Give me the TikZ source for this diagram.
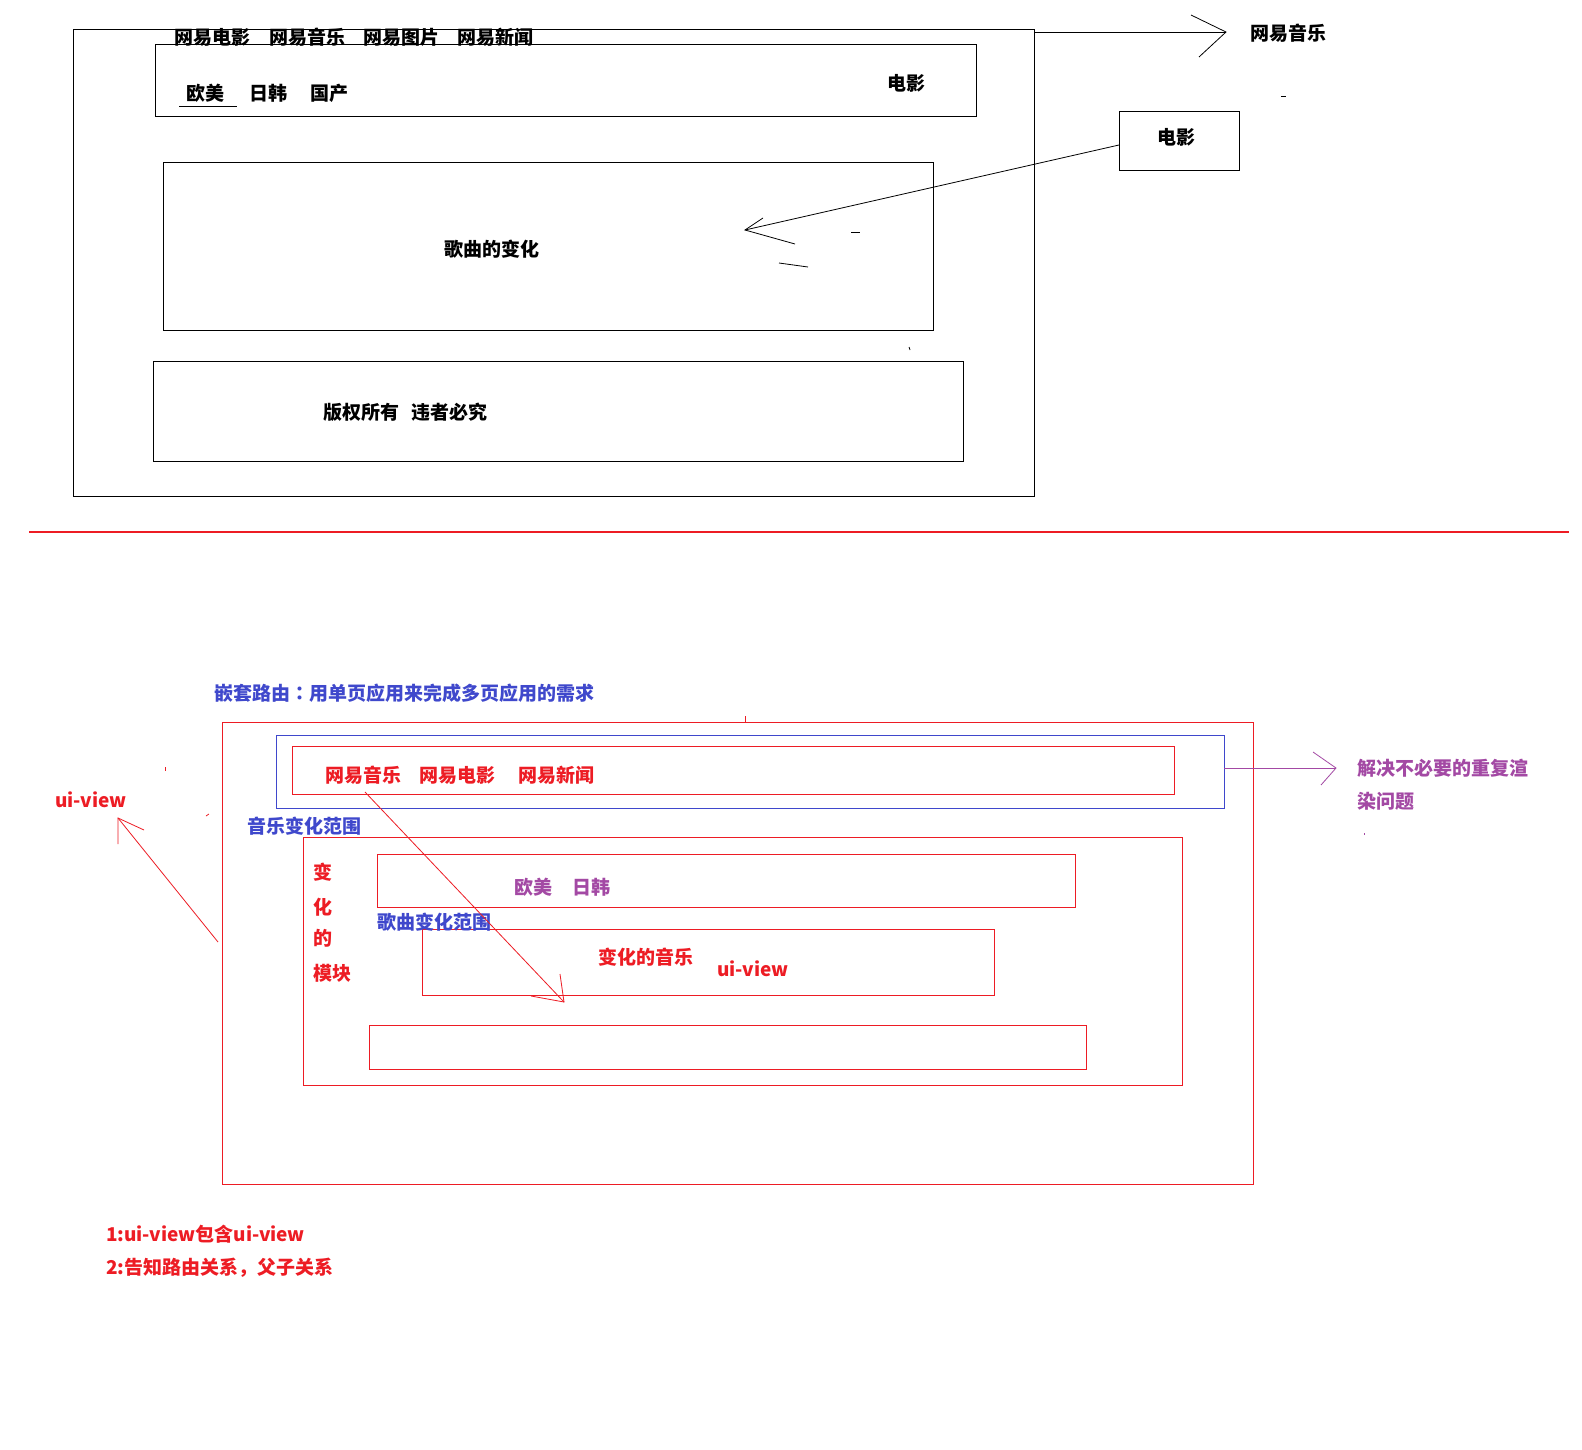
\documentclass[tikz,border=0pt]{standalone}
\usepackage{fontspec}
\setmainfont{Noto Sans CJK SC}
\newfontfamily\tcpunct{Noto Sans CJK TC}
\definecolor{pred}{HTML}{ED1C24}
\definecolor{pblue}{HTML}{3F48CC}
\definecolor{ppurple}{HTML}{A349A4}
\tikzset{
  box/.style={draw, anchor=north west, inner sep=0pt, line width=1.1pt},
  blk/.style={box, draw=black},
  rbox/.style={box, draw=pred},
  bbox/.style={box, draw=pblue},
  txt/.style={anchor=west, inner sep=0pt, font=\fontsize{19}{22}\selectfont\bfseries},
  conn/.style={line width=0.8pt}
}
\begin{document}
\begin{tikzpicture}[x=1pt,y=-1pt]
\path[use as bounding box, fill=white] (0,0) rectangle (1582,1449);

% ---------- top part ----------
\node[blk, minimum width=961pt, minimum height=467pt] (big) at (73,29) {};
\node[blk, minimum width=821pt, minimum height=72pt] (nav1) at (155,44) {};
\node[blk, minimum width=770pt, minimum height=168pt] (song) at (163,162) {};
\node[blk, minimum width=810pt, minimum height=100pt] (foot) at (153,361) {};
\node[blk, minimum width=120pt, minimum height=59pt] (dybox) at (1119,111) {};

\node[txt] (m1) at (174,37) {网易电影};
\node[txt] (m2) at (269,37) {网易音乐};
\node[txt] (m3) at (363,37) {网易图片};
\node[txt] (m4) at (457,37) {网易新闻};
\node[txt] (s1) at (186,93) {欧美};
\node[txt] (s2) at (249,93) {日韩};
\node[txt] (s3) at (310,93) {国产};
\coordinate (ul1) at (179,106);
\coordinate (ul2) at (237,106);
\draw[conn] (ul1) -- (ul2);
\node[txt] (dy1) at (887,83) {电影};
\node[txt, anchor=center] (songtxt) at (492,249) {歌曲的变化};
\node[txt] (cp1) at (323,412) {版权所有};
\node[txt] (cp2) at (411,412) {违者必究};
\node[txt] (wyyy) at (1250,33) {网易音乐};
\node[txt] (dy2) at (1157,137) {电影};

\coordinate (a1s) at (1035,32);
\coordinate (a1t) at (1226,32);
\coordinate (a1b1) at (1191,15);
\coordinate (a1b2) at (1199,57);
\draw[conn] (a1s) -- (a1t);
\draw[conn] (a1b1) -- (a1t) -- (a1b2);

\coordinate (a2s) at (1119,145);
\coordinate (a2t) at (745,230);
\coordinate (a2b1) at (763,218);
\coordinate (a2b2) at (795,244);
\draw[conn] (a2s) -- (a2t);
\draw[conn] (a2b1) -- (a2t) -- (a2b2);
\draw[conn] (851,232) -- (860,232);
\draw[conn] (779,263) -- (808,267);
\draw[conn] (1281,96) -- (1286,96);
\draw[conn] (909,347) -- (910,350);

% separator
\draw[pred, line width=1.1pt] (29,532) -- (1569,532);

% ---------- bottom part ----------
\node[txt, text=pblue] (title) at (214,693) {嵌套路由{\tcpunct ：}用单页应用来完成多页应用的需求};
\node[rbox, minimum width=1031pt, minimum height=462pt] (outer) at (222,722) {};
\node[bbox, minimum width=948pt, minimum height=73pt] (bluebox) at (276,735) {};
\node[rbox, minimum width=882pt, minimum height=48pt] (nav2) at (292,746) {};
\node[rbox, minimum width=879pt, minimum height=248pt] (module) at (303,837) {};
\node[rbox, minimum width=698pt, minimum height=53pt] (ombox) at (377,854) {};
\node[rbox, minimum width=572pt, minimum height=66pt] (music) at (422,929) {};
\node[rbox, minimum width=717pt, minimum height=44pt] (bottom) at (369,1025) {};

\node[txt, text=pred] (n1) at (325,775) {网易音乐};
\node[txt, text=pred] (n2) at (419,775) {网易电影};
\node[txt, text=pred] (n3) at (518,775) {网易新闻};
\node[txt, text=ppurple] (p1) at (1357,768) {解决不必要的重复渲};
\node[txt, text=ppurple] (p2) at (1357,801) {染问题};
\node[txt, text=pred] (uiv1) at (55,800) {ui-view};
\node[txt, text=pblue] (yyfw) at (247,826) {音乐变化范围};
\node[txt, text=pred] (v1) at (313,872) {变};
\node[txt, text=pred] (v2) at (313,907) {化};
\node[txt, text=pred] (v3) at (313,938) {的};
\node[txt, text=pred] (v4) at (313,973) {模块};
\node[txt, text=ppurple] (o1) at (514,887) {欧美};
\node[txt, text=ppurple] (o2) at (572,887) {日韩};
\node[txt, text=pblue] (gqfw) at (377,922) {歌曲变化范围};
\node[txt, text=pred] (bhyy) at (598,957) {变化的音乐};
\node[txt, text=pred] (uiv2) at (717,969) {ui-view};
\node[txt, text=pred] (note1) at (106,1234) {1:ui-view包含ui-view};
\node[txt, text=pred] (note2) at (106,1268) {2:告知路由关系，父子关系};

% purple arrow
\coordinate (a3s) at (1224,768);
\coordinate (a3t) at (1336,768);
\coordinate (a3b1) at (1313,752);
\coordinate (a3b2) at (1321,785);
\draw[conn, ppurple] (a3s) -- (a3t);
\draw[conn, ppurple] (a3b1) -- (a3t) -- (a3b2);
\draw[ppurple, line width=0.8pt] (1364,833) -- (1364,835);

% red arrow to ui-view
\coordinate (a4s) at (218,942);
\coordinate (a4t) at (118,818);
\coordinate (a4b1) at (144,830);
\coordinate (a4b2) at (118,844);
\draw[conn, pred] (a4s) -- (a4t);
\draw[conn, pred] (a4b1) -- (a4t) -- (a4b2);

% red diagonal arrow
\coordinate (a5s) at (365,792);
\coordinate (a5t) at (564,1002);
\coordinate (a5b1) at (560,974);
\coordinate (a5b2) at (531,996);
\draw[conn, pred] (a5s) -- (a5t);
\draw[conn, pred] (a5b1) -- (a5t) -- (a5b2);

% small marks
\draw[pred, line width=0.8pt] (745,716) -- (745,722);
\draw[pred, line width=0.8pt] (165,767) -- (165,771);
\draw[pred, line width=0.8pt] (206,816) -- (209,814);
\end{tikzpicture}
\end{document}
